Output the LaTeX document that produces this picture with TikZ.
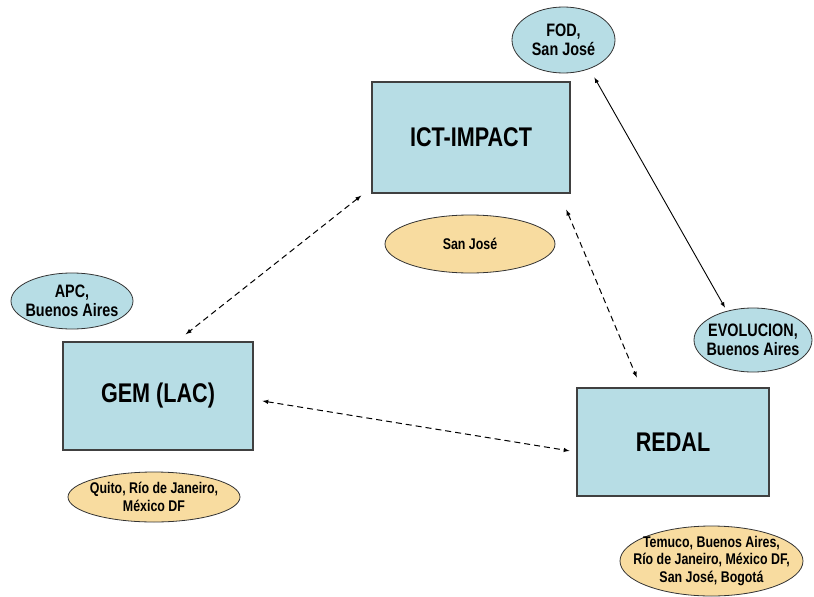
\documentclass[tikz,border=0pt]{standalone}
\usepackage{fontspec}
\setmainfont{Liberation Sans}[FakeStretch=0.8]
\usetikzlibrary{shapes.geometric}
\definecolor{boxblue}{RGB}{183,221,229}
\definecolor{sand}{RGB}{248,220,160}

\begin{document}
\begin{tikzpicture}[x=1pt, y=-1pt,
  box/.style = {draw=black!75, line width=1.1pt, fill=boxblue, font=\bfseries\fontsize{27}{30}\selectfont},
  blob/.style = {draw=black!80, line width=0.8pt, ellipse, fill=boxblue},
  spot/.style = {draw=black!80, line width=0.8pt, ellipse, fill=sand},
  big/.style = {align=center, font=\bfseries\fontsize{18}{19}\selectfont},
  small/.style = {align=center, font=\bfseries\fontsize{15.5}{17.5}\selectfont},
  link/.style = {<->, >=latex, line width=1pt, dash pattern=on 6pt off 4pt}]
\useasboundingbox (0,0) rectangle (814,597);

\node[box, minimum width=198pt, minimum height=111pt] (ict) at (471,137.5) {ICT-IMPACT};
\node[box, minimum width=190pt, minimum height=108pt] (gem) at (158,396) {GEM (LAC)};
\node[box, minimum width=192pt, minimum height=108pt] (redal) at (673,442) {REDAL};

% blue places
\node[blob, minimum width=103pt, minimum height=66pt] (fod) at (563.5,40) {};
\node[big] (fodtxt) at (fod) {FOD,\\San José};
\node[blob, minimum width=122pt, minimum height=56pt] (apc) at (72,301) {};
\node[big] (apctxt) at (apc) {APC,\\Buenos Aires};
\node[blob, minimum width=118pt, minimum height=64pt] (evo) at (753,340) {};
\node[big] (evotxt) at (evo) {EVOLUCION,\\Buenos Aires};

% sand places
\node[spot, minimum width=170pt, minimum height=58pt] (sj) at (470,244) {};
\node[small] (sjtxt) at (sj) {San José};
\node[spot, minimum width=172pt, minimum height=50pt] (quito) at (154,497) {};
\node[small] (quitotxt) at (quito) {Quito, Río de Janeiro,\\México DF};
\node[spot, minimum width=183pt, minimum height=70pt] (temuco) at (711.5,561) {};
\node[small] (temucotxt) at (temuco) {Temuco, Buenos Aires,\\Río de Janeiro, México DF,\\San José, Bogotá};

\draw[link, shorten <=13pt, shorten >=11.5pt] ([yshift=6pt]ict.south west) -- ([xshift=18.7pt]gem.north);
\draw[link, shorten <=17.5pt, shorten >=10.8pt] ([xshift=-11pt]ict.south east) -- ([xshift=-32pt]redal.north);
\draw[link, shorten <=9pt, shorten >=7pt] ([yshift=-3.5pt]gem.east) -- ([yshift=-10pt]redal.west);
\draw[<->, >=latex, line width=0.9pt, shorten <=9.8pt, shorten >=3.7pt] (fod.-48) -- (evo.132);
\end{tikzpicture}
\end{document}
